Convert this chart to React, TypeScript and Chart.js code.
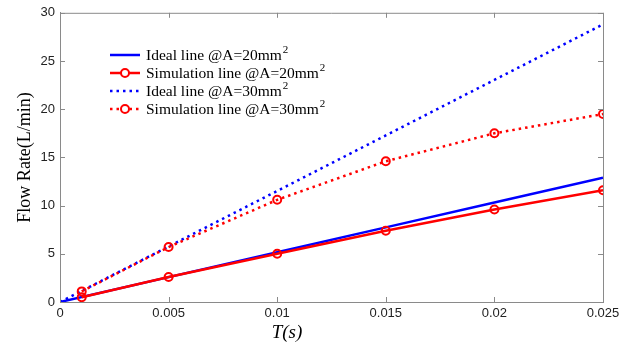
import React, { useEffect, useRef } from "react";
import { Chart, registerables } from "chart.js";

Chart.register(...registerables);

const simTimes = [0.001, 0.005, 0.01, 0.015, 0.02, 0.025];
const sim20 = [0.5, 2.6, 5.0, 7.4, 9.6, 11.6];
const sim30 = [1.1, 5.7, 10.6, 14.6, 17.5, 19.5];
const idealTimes = [0, 0.005, 0.01, 0.015, 0.02, 0.025];
const ideal20 = [0, 2.58, 5.16, 7.74, 10.32, 12.9];
const ideal30 = [0, 5.76, 11.52, 17.28, 23.04, 28.8];
const xTicks = [0, 0.005, 0.01, 0.015, 0.02, 0.025];
const xTickLabels = ["0", "0.005", "0.01", "0.015", "0.02", "0.025"];
const yTicks = [0, 5, 10, 15, 20, 25, 30];
const yTickLabels = ["0", "5", "10", "15", "20", "25", "30"];
const legendLabels = [
  "Ideal line @A=20mm",
  "Simulation line @A=20mm",
  "Ideal line @A=30mm",
  "Simulation line @A=30mm",
];
const xTitle = "T(s)";
const yTitle = "Flow Rate(L/min)";

const BLUE = "#0000ff";
const RED = "#ff0000";
const FRAME = "#8a8a8a";
const DOT = [2.5, 4];

const decorPlugin = {
  id: "decor",
  afterDraw(chart: any) {
    const ctx = chart.ctx;
    const { left, right, top, bottom } = chart.chartArea;
    const xs = chart.scales.x;
    const ys = chart.scales.y;
    ctx.save();
    // frame
    ctx.strokeStyle = FRAME;
    ctx.lineWidth = 1;
    ctx.beginPath();
    ctx.moveTo(left, top + 0.5);
    ctx.lineTo(right + 0.5, top + 0.5);
    ctx.lineTo(right + 0.5, bottom);
    ctx.stroke();
    // inward ticks
    const tl = 5;
    ctx.beginPath();
    xTicks.forEach((v) => {
      const px = Math.round(xs.getPixelForValue(v)) + 0.5;
      ctx.moveTo(px, bottom);
      ctx.lineTo(px, bottom - tl);
      ctx.moveTo(px, top);
      ctx.lineTo(px, top + tl);
    });
    yTicks.forEach((v) => {
      const py = Math.round(ys.getPixelForValue(v)) + 0.5;
      ctx.moveTo(left, py);
      ctx.lineTo(left + tl, py);
      ctx.moveTo(right, py);
      ctx.lineTo(right - tl, py);
    });
    ctx.stroke();

    // x title
    ctx.fillStyle = "#000";
    ctx.font = "italic 19px 'Liberation Serif', 'Times New Roman', serif";
    ctx.textAlign = "center";
    ctx.textBaseline = "middle";
    ctx.fillText(xTitle, 287, 333);

    // legend
    const styles = [
      { color: BLUE, dash: [] as number[], marker: false },
      { color: RED, dash: [] as number[], marker: true },
      { color: BLUE, dash: DOT, marker: false },
      { color: RED, dash: DOT, marker: true },
    ];
    const rows = [55, 73, 91, 109];
    const x0 = 110;
    const x1 = 140;
    legendLabels.forEach((label, i) => {
      const s = styles[i];
      const y = rows[i];
      ctx.strokeStyle = s.color;
      ctx.lineWidth = 2.5;
      ctx.setLineDash(s.dash);
      ctx.beginPath();
      ctx.moveTo(x0, y);
      ctx.lineTo(x1, y);
      ctx.stroke();
      ctx.setLineDash([]);
      if (s.marker) {
        ctx.lineWidth = 2;
        ctx.fillStyle = "#fff";
        ctx.beginPath();
        ctx.arc((x0 + x1) / 2, y, 4, 0, Math.PI * 2);
        ctx.fill();
        ctx.stroke();
      }
      ctx.fillStyle = "#000";
      ctx.textAlign = "left";
      ctx.textBaseline = "middle";
      ctx.font = "15.5px 'Liberation Serif', 'Times New Roman', serif";
      ctx.fillText(label, 146, y + 1);
      const w = ctx.measureText(label).width;
      ctx.font = "11px 'Liberation Serif', 'Times New Roman', serif";
      ctx.fillText("2", 146 + w + 1, y - 5);
    });
    ctx.restore();
  },
};

export default function App() {
  const ref = useRef<HTMLCanvasElement | null>(null);
  useEffect(() => {
    if (!ref.current) return;
    const tickFont = { family: "'Liberation Sans', Arial, sans-serif", size: 13 };
    const chart = new Chart(ref.current, {
      type: "line",
      data: {
        datasets: [
          {
            label: legendLabels[0],
            data: idealTimes.map((x, i) => ({ x, y: ideal20[i] })),
            borderColor: BLUE,
            borderWidth: 2.5,
            pointRadius: 0,
            order: 2,
          },
          {
            label: legendLabels[1],
            data: simTimes.map((x, i) => ({ x, y: sim20[i] })),
            borderColor: RED,
            borderWidth: 2.5,
            pointRadius: 4,
            pointBorderWidth: 2,
            pointBorderColor: RED,
            pointBackgroundColor: "rgba(255,255,255,0)",
            order: 1,
          },
          {
            label: legendLabels[2],
            data: idealTimes.map((x, i) => ({ x, y: ideal30[i] })),
            borderColor: BLUE,
            borderWidth: 2.5,
            borderDash: DOT,
            pointRadius: 0,
            order: 2,
          },
          {
            label: legendLabels[3],
            data: simTimes.map((x, i) => ({ x, y: sim30[i] })),
            borderColor: RED,
            borderWidth: 2.5,
            borderDash: DOT,
            pointRadius: 4,
            pointBorderWidth: 2,
            pointBorderColor: RED,
            pointBackgroundColor: "rgba(255,255,255,0)",
            order: 1,
          },
        ],
      },
      options: {
        animation: false,
        responsive: false,
        maintainAspectRatio: false,
        layout: { padding: { top: 11, right: 32, left: 0, bottom: 0 } },
        plugins: {
          legend: { display: false },
          tooltip: { enabled: false },
        },
        scales: {
          x: {
            type: "linear",
            min: 0,
            max: 0.025,
            afterBuildTicks: (s: any) => {
              s.ticks = xTicks.map((v) => ({ value: v }));
            },
            afterFit: (s: any) => {
              s.height = 45;
            },
            grid: { drawOnChartArea: false, drawTicks: false },
            border: { display: true, color: FRAME, width: 1 },
            ticks: {
              font: tickFont,
              color: "#222",
              padding: 4,
              maxRotation: 0,
              callback: (_v: any, i: number) => xTickLabels[i],
            },
          },
          y: {
            type: "linear",
            min: 0,
            max: 30,
            afterBuildTicks: (s: any) => {
              s.ticks = yTicks.map((v) => ({ value: v }));
            },
            afterFit: (s: any) => {
              s.width = 60;
            },
            grid: { drawOnChartArea: false, drawTicks: false },
            border: { display: true, color: FRAME, width: 1 },
            title: {
              display: true,
              text: yTitle,
              font: { family: "'Liberation Serif', 'Times New Roman', serif", size: 18 },
              color: "#000",
              padding: { top: 14, bottom: 0 },
            },
            ticks: {
              font: tickFont,
              color: "#222",
              padding: 5,
              callback: (_v: any, i: number) => yTickLabels[i],
            },
          },
        },
      },
      plugins: [decorPlugin],
    });
    return () => chart.destroy();
  }, []);
  return (
    <div style={{ position: "fixed", left: 0, top: 0, width: 635, height: 347, background: "#fff" }}>
      <canvas ref={ref} width={635} height={347} style={{ width: 635, height: 347 }} />
    </div>
  );
}
